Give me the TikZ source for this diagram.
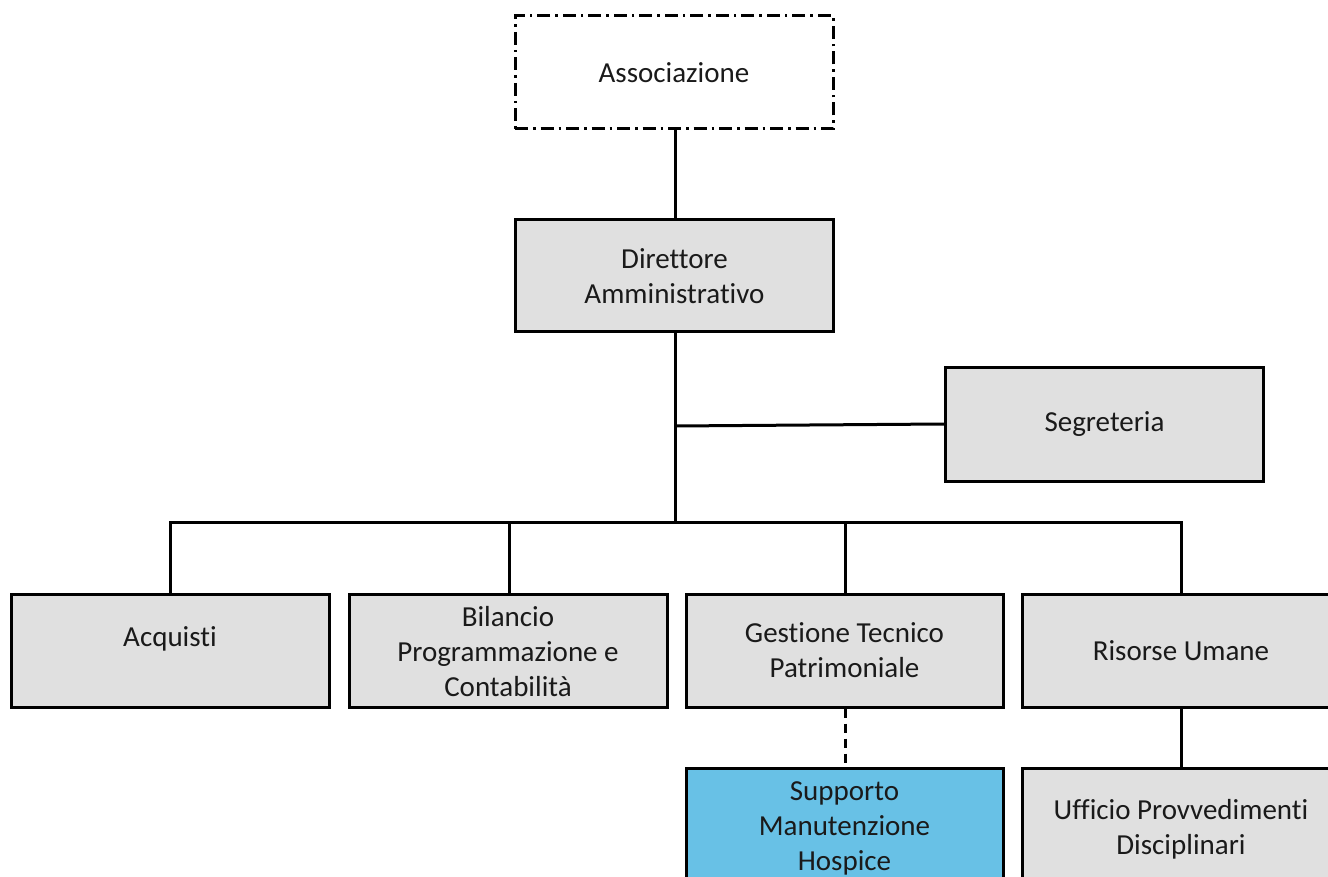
\documentclass[tikz,border=0pt]{standalone}
\usepackage{fontspec}
\setmainfont{Carlito}[Ligatures={NoCommon,NoRare,NoDiscretionary}]
\definecolor{boxgray}{RGB}{224,224,224}
\definecolor{boxblue}{RGB}{104,193,230}
\definecolor{txt}{RGB}{26,26,26}
\begin{document}
\begin{tikzpicture}[x=1pt,y=-1pt,
  orgbox/.style={draw=black,line width=3pt,fill=boxgray,minimum width=318pt,minimum height=113pt,
    align=center,inner sep=0pt,font=\fontsize{29}{35}\selectfont,text=txt},
  conn/.style={line width=3pt,draw=black},
  dashconn/.style={line width=3pt,draw=black,dash pattern=on 9pt off 6pt}]
\useasboundingbox (0,0) rectangle (1328,877);
\clip (0,0) rectangle (1328,877);
\node[orgbox,fill=none,dash pattern=on 13pt off 5pt on 2.5pt off 5pt] (asso) at (674,72.5) {Associazione};
\node[orgbox,minimum height=112pt] (dir) at (674.5,276) {Direttore\\Amministrativo};
\node[orgbox,minimum height=114pt] (seg) at (1104.5,424) {Segreteria};
\node[orgbox] (acq) at (170,650.5) {\raisebox{12pt}[\height][\depth]{Acquisti}};
\node[orgbox] (bil) at (508,650.5) {\raisebox{-4pt}[\height][\depth]{\begin{tabular}{@{}c@{}}Bilancio\\Programmazione e\\Contabilità\end{tabular}}};
\node[orgbox,minimum width=317pt] (ges) at (844.5,650.5) {Gestione Tecnico\\Patrimoniale};
\node[orgbox] (ris) at (1181,650.5) {Risorse Umane};
\node[orgbox,fill=boxblue,minimum width=317pt,minimum height=122pt] (sup) at (844.5,829) {\raisebox{1pt}[\height][\depth]{\begin{tabular}{@{}c@{}}Supporto\\Manutenzione\\Hospice\end{tabular}}};
\node[orgbox,minimum height=122pt] (uff) at (1181,829) {Ufficio Provvedimenti\\Disciplinari};
\coordinate (j1) at (675,426);
\coordinate (bus) at (675,522);
\draw[conn] (asso.south -| 675,0) -- (dir.north -| 675,0);
\draw[conn] (dir.south -| 675,0) -- (bus);
\draw[conn] (j1) -- (seg.west);
\draw[conn] (acq.north -| 170,0) -- (170,522) -- (1181,522) -- (ris.north);
\draw[conn] (bil.north -| 509,0) -- (509,522);
\draw[conn] (ges.north -| 845,0) -- (845,522);
\draw[dashconn] (ges.south -| 845,0) -- (sup.north -| 845,0);
\draw[conn] (ris.south) -- (uff.north);
\end{tikzpicture}
\end{document}
